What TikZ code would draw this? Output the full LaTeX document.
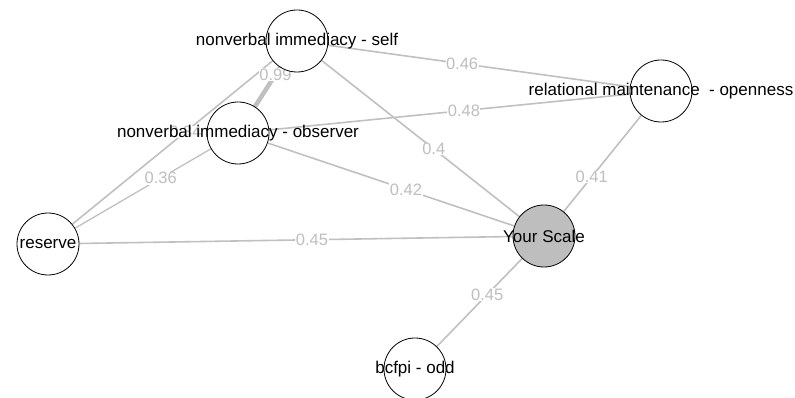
\documentclass[tikz,border=0pt]{standalone}
\usepackage{fontspec}
\setmainfont{Liberation Sans}
\pgfdeclarelayer{background}
\pgfsetlayers{background,main}
\definecolor{edgegray}{HTML}{C0C0C0}
\definecolor{lblgray}{HTML}{BEBEBE}
\tikzset{
  vnode/.style={circle, draw=black, line width=0.8pt, fill=white, minimum size=62pt, inner sep=0pt},
  txt/.style={font=\fontsize{17}{20}\selectfont, text=black},
  edge/.style={draw=edgegray, line width=1.6pt},
  lbl/.style={fill=white, inner sep=0.5pt, text=lblgray, font=\fontsize{16.5}{19}\selectfont},
}
\begin{document}
\begin{tikzpicture}[x=1pt, y=-1pt]
\useasboundingbox (0,0) rectangle (795,398);
\node[vnode, label={[txt]center:nonverbal immediacy - self}] (self) at (297,41) {};
\node[vnode, label={[txt]center:nonverbal immediacy - observer}] (obs) at (238,133) {};
\node[vnode, label={[txt]center:relational maintenance~ - openness}] (rel) at (661,91) {};
\node[vnode, label={[txt]center:reserve}] (res) at (48,244) {};
\node[vnode, fill=lblgray, label={[txt]center:Your Scale}] (ys) at (544,236) {};
\node[vnode, label={[txt]center:bcfpi - odd}] (bc) at (415,369) {};
\begin{pgfonlayer}{background}
\draw[edge] (res) -- node[lbl, pos=0.565] {0.34} (self);
\draw[edge, line width=1.3pt] (res) -- node[lbl, pos=0.63] {0.36} (obs);
\draw[edge] (res) -- node[lbl, pos=0.537] {0.45} (ys);
\draw[edge, line width=4.5pt] (obs) -- node[lbl, pos=0.82] {0.99} (self);
\draw[edge] (self) -- node[lbl, pos=0.444] {0.46} (rel);
\draw[edge] (obs) -- node[lbl, pos=0.54] {0.48} (rel);
\draw[edge] (self) -- node[lbl, pos=0.567] {0.4} (ys);
\draw[edge] (obs) -- node[lbl, pos=0.561] {0.42} (ys);
\draw[edge] (rel) -- node[lbl, pos=0.64] {0.41} (ys);
\draw[edge] (ys) -- node[lbl, pos=0.41] {0.45} (bc);
\end{pgfonlayer}
\end{tikzpicture}
\end{document}
